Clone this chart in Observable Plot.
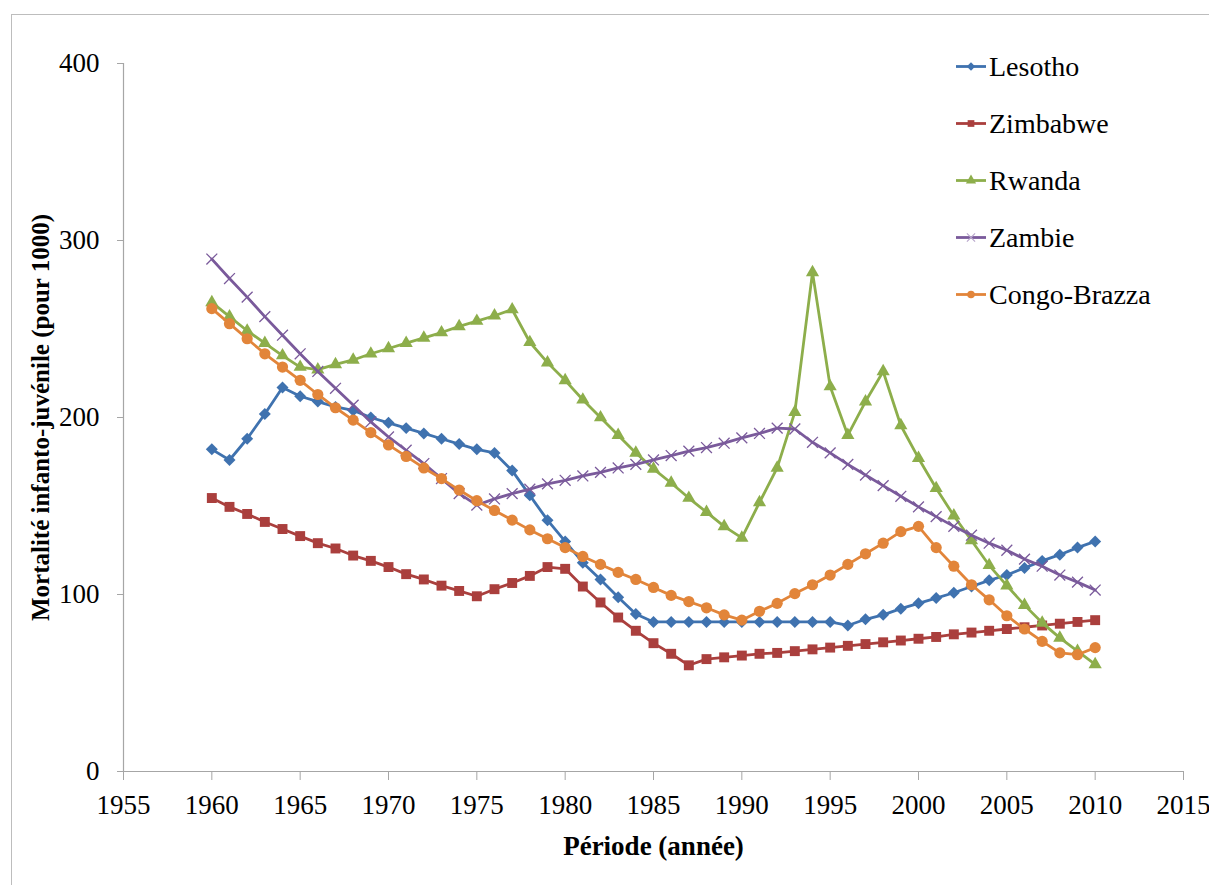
<!DOCTYPE html>
<html>
<head>
<meta charset="utf-8">
<script src="https://cdn.jsdelivr.net/npm/d3@7"></script>
<script src="https://cdn.jsdelivr.net/npm/@observablehq/plot@0.6"></script>
<style>
  html, body { margin: 0; padding: 0; background: #fff; overflow: hidden; }
  body { position: relative; width: 1209px; height: 885px; }
  #frame { position: absolute; left: 11px; top: 14px; width: 1400px; height: 1000px; border: 1.5px solid #bdbdbd; box-sizing: border-box; pointer-events: none; }
  #chart { position: absolute; left: 0; top: 0; }
  #legend { position: absolute; left: 955px; top: 38px; }
</style>
</head>
<body>
<div id="frame"></div>
<div id="chart"></div>
<div id="legend"></div>
<script>
const years = [1960,1961,1962,1963,1964,1965,1966,1967,1968,1969,1970,1971,1972,1973,1974,1975,1976,1977,1978,1979,1980,1981,1982,1983,1984,1985,1986,1987,1988,1989,1990,1991,1992,1993,1994,1995,1996,1997,1998,1999,2000,2001,2002,2003,2004,2005,2006,2007,2008,2009,2010];

const lesotho = [182,176,188,202,217,212,209,206,204,200,197,194,191,188,185,182,180,
  170,156,142,130,118,108.5,98.5,89,84.5,84.5,
  84.5,84.5,84.5,84.5,84.5,84.5,84.5,84.5,84.5,
  82.5,86,88.5,92,95,98,101,104.5,108,111,115,119,122.5,126.5,130];

const zimbabwe = [154.5,149.5,145.5,141,137,133,129,126,122,119,115.5,111.5,108.5,105,102,99,103,
  106.5,110.5,115.5,114.5,104.5,95.5,87,79.5,72.5,66.5,
  60,63.5,64.5,65.5,66.5,67,68,69,70,
  71,72,73,74,75,76,77.5,78.5,79.5,80.5,81.5,82.5,83.5,84.5,85.5];

const rwanda = [265,257,249,242,235,228.5,227,230,232.5,236,239,242,245,248,251.5,254.5,257.5,
  261,242.5,231,221,210,200,190,180,171,163,
  154.5,146.5,138.5,132,152,171.5,203,282,217.5,
  190,209,226,195.5,177,160,144.5,130.5,116.5,105,94,84,75.5,68,60.5];

const zambie = [289.5,278.5,268,257,246.5,236,226,216.5,207,197.5,189,181.5,174,165.5,157,150.5,154,
  157,159.5,162.5,164.5,167,169,171.5,173.5,176,178.5,
  181,183,185.5,188.5,191,194,193.5,186,180,
  173.5,167.5,161.5,155.5,149.5,144,138.5,133.5,129,125,120,116,111,107,102.5];

const congo = [261.5,253,244.5,236,228.5,221,213,205.5,198.5,191.5,184.5,178,171.5,165.5,159,153,147.5,
  142,136.5,131.5,126.5,121.5,117,112.5,108.5,104,99.5,
  96,92.5,88.5,85.5,90.5,95,100.5,105.5,111,
  117,123,129,135.5,138.5,126.5,116,105.5,97,88,80.5,73.5,67,66,70];

const seriesNames = ["Lesotho", "Zimbabwe", "Rwanda", "Zambie", "Congo-Brazza"];
const seriesValues = [lesotho, zimbabwe, rwanda, zambie, congo];
const seriesColors = ["#3F72AF", "#AA3F3D", "#8DAE4B", "#7A5A9B", "#E2853A"];
const seriesSymbols = ["diamond2", "square", "triangle", "times", "circle"];
const seriesR = [5.4, 5.6, 4.9, 5.0, 5.6];

const xTicks = [1955,1960,1965,1970,1975,1980,1985,1990,1995,2000,2005,2010,2015];
const yTicks = [0,100,200,300,400];
const xLabel = "Période (année)";
const yLabel = "Mortalité infanto-juvénile (pour 1000)";

const axisGray = "#a6a6a6";
const serif = "Liberation Serif, Times New Roman, serif";

const rows = [];
seriesNames.forEach((name, i) => {
  seriesValues[i].forEach((v, j) => rows.push({series: name, year: years[j], value: v}));
});

const seriesMarks = [];
seriesNames.forEach((name, i) => {
  const d = rows.filter(r => r.series === name);
  const isStroke = seriesSymbols[i] === "times";
  seriesMarks.push(Plot.line(d, {x: "year", y: "value", stroke: seriesColors[i], strokeWidth: 2.8}));
  seriesMarks.push(Plot.dot(d, {
    x: "year", y: "value", symbol: seriesSymbols[i], r: seriesR[i],
    fill: isStroke ? "none" : seriesColors[i],
    stroke: isStroke ? seriesColors[i] : "none",
    strokeWidth: isStroke ? 1.3 : 0
  }));
});

const chart = Plot.plot({
  width: 1209,
  height: 885,
  marginLeft: 123,
  marginRight: 26,
  marginTop: 63,
  marginBottom: 114,
  x: {domain: [1955, 2015]},
  y: {domain: [0, 400]},
  style: {fontFamily: serif, fontSize: "27px", background: "transparent", color: "#000"},
  marks: [
    Plot.axisX({ticks: xTicks, tickSize: 9, tickPadding: 14, tickFormat: d => String(d), stroke: axisGray, fill: "#000", label: null}),
    Plot.axisY({ticks: yTicks, tickSize: 6, tickPadding: 18, tickFormat: d => String(d), stroke: axisGray, fill: "#000", label: null}),
    Plot.ruleY([0], {stroke: axisGray, strokeWidth: 1.2}),
    Plot.ruleX([1955], {stroke: axisGray, strokeWidth: 1.2}),
    ...seriesMarks,
    Plot.text([xLabel], {frameAnchor: "bottom", dy: 75, lineAnchor: "middle", textAnchor: "middle", text: d => d, fontWeight: "bold", fontSize: 27, fill: "#000"}),
    Plot.text([yLabel], {frameAnchor: "left", dx: -83, rotate: -90, textAnchor: "middle", lineAnchor: "middle", text: d => d, fontWeight: "bold", fontSize: 25, fill: "#000"})
  ]
});
document.getElementById("chart").appendChild(chart);

// Legend (SVG so it uses the same serif font as the chart)
const symMap = {diamond2: d3.symbolDiamond2, square: d3.symbolSquare, triangle: d3.symbolTriangle, times: d3.symbolTimes, circle: d3.symbolCircle};
const rowH = 57, lw = 32;
const lsvg = d3.create("svg").attr("width", 250).attr("height", rowH * seriesNames.length)
  .attr("font-family", serif).attr("font-size", 28);
seriesNames.forEach((name, i) => {
  const g = lsvg.append("g").attr("transform", `translate(0,${rowH * i + rowH / 2})`);
  g.append("line").attr("x1", 1).attr("x2", lw - 1).attr("y1", 0).attr("y2", 0)
    .attr("stroke", seriesColors[i]).attr("stroke-width", 2.8);
  const isStroke = seriesSymbols[i] === "times";
  g.append("path")
    .attr("transform", `translate(${lw / 2},0)`)
    .attr("d", d3.symbol(symMap[seriesSymbols[i]], 45)())
    .attr("fill", isStroke ? "none" : seriesColors[i])
    .attr("stroke", isStroke ? "#b9a8cc" : "none")
    .attr("stroke-width", 1.2);
  g.append("text").attr("x", lw + 2).attr("y", 0).attr("dy", "0.35em").attr("fill", "#000").text(name);
});
document.getElementById("legend").appendChild(lsvg.node());
</script>
</body>
</html>
